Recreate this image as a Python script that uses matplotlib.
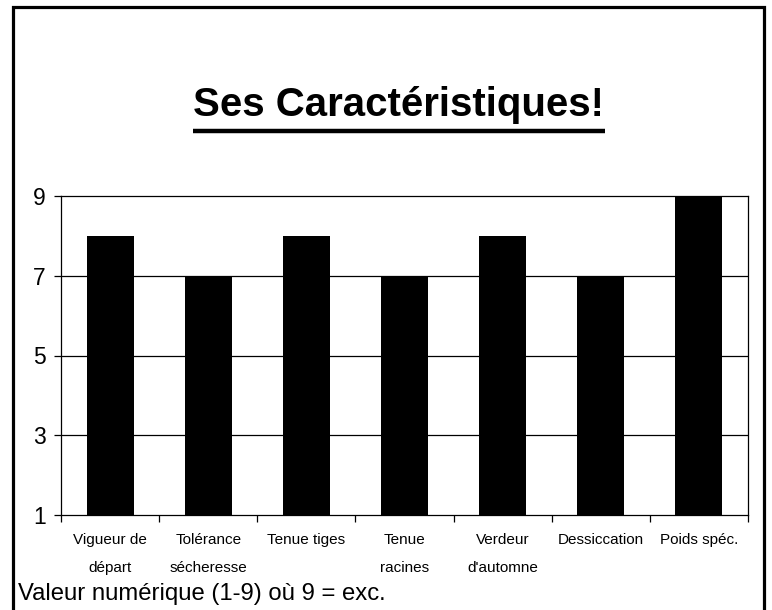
import matplotlib
matplotlib.use("Agg")
import matplotlib.pyplot as plt
from matplotlib.lines import Line2D
import numpy as np

categories = ["Vigueur de\ndépart", "Tolérance\nsécheresse", "Tenue tiges",
              "Tenue\nracines", "Verdeur\nd'automne", "Dessiccation", "Poids spéc."]
values = [8, 7, 8, 7, 8, 7, 9]
yticks = [1, 3, 5, 7, 9]
title = "Ses Caractéristiques!"
footer = "Valeur numérique (1-9) où 9 = exc."

plt.rcParams['font.family'] = ['Liberation Sans', 'DejaVu Sans']

W, H = 772, 610
fig = plt.figure(figsize=(W / 100, H / 100), dpi=100)

# outer frame (left, top, right)
fig.add_artist(Line2D([13 / W, 13 / W, 764 / W, 764 / W],
                      [0, 1 - 7 / H, 1 - 7 / H, 0],
                      transform=fig.transFigure, color='black', lw=2.3,
                      solid_joinstyle='miter'))

ax = fig.add_axes([61 / W, 1 - 515 / H, (748 - 61) / W, (515 - 196) / H])
x = np.arange(len(categories))
ax.bar(x, values, width=0.48, bottom=0, color='black', zorder=3)
ax.set_xlim(-0.5, len(categories) - 0.5)
ax.set_ylim(1, 9)
ax.set_yticks(yticks)
ax.set_yticklabels([str(v) for v in yticks], fontsize=16.5)
for v in yticks[1:-1]:
    ax.axhline(v, color='black', lw=0.9, zorder=1)
for s in ax.spines.values():
    s.set_linewidth(0.9)
ax.tick_params(axis='y', direction='out', length=5, width=0.9, pad=6)

# x ticks at category boundaries
ax.set_xticks(np.arange(-0.5, len(categories)), minor=False)
ax.set_xticklabels([])
ax.tick_params(axis='x', which='major', direction='out', length=5, width=0.9)
ax.set_xticks(x, minor=True)
ax.set_xticklabels(categories, minor=True, fontsize=11, linespacing=2.25, va='top')
ax.tick_params(axis='x', which='minor', length=0, pad=13)

# Title with underline
t = fig.text(399 / W, 1 - 105 / H, title, ha='center', va='center',
             fontsize=29, fontweight='bold')
fig.canvas.draw()
bb = t.get_window_extent()
uy = 1 - 131 / H
fig.add_artist(Line2D([bb.x0 / W, bb.x1 / W], [uy, uy], transform=fig.transFigure,
                      color='black', lw=3.2, solid_capstyle='butt'))

fig.text(18 / W, 1 - 594 / H, footer, ha='left', va='center', fontsize=17.2)

fig.savefig("out.png", dpi=100)
